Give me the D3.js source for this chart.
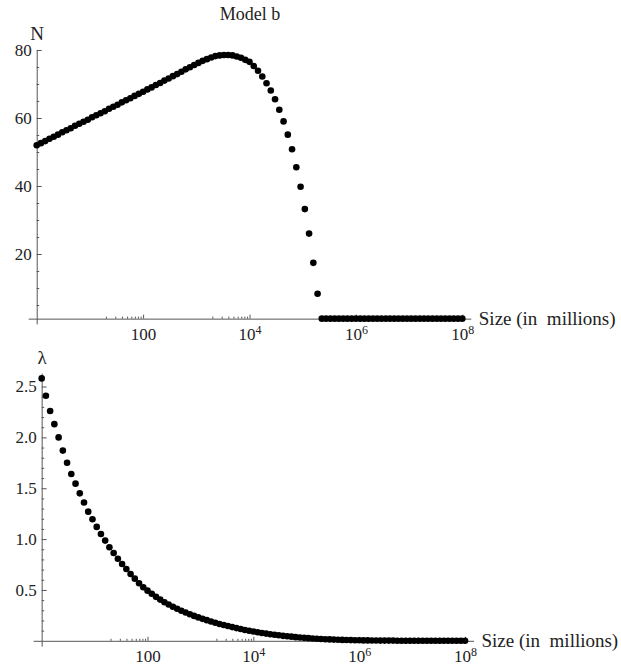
<!DOCTYPE html>
<html>
<head>
<meta charset="utf-8">
<script src="https://cdn.jsdelivr.net/npm/d3@7"></script>
<style>
  body { margin: 0; background: #fff; }
  svg text { font-family: "Liberation Serif", "Times New Roman", serif; fill: #222; }
</style>
</head>
<body>
<svg id="chart" width="621" height="667"></svg>
<script>
// log10 of size (in millions), one entry per computed point
const sizeExp = [
  0, 0.08, 0.16, 0.24, 0.32, 0.4, 0.48, 0.56, 0.64, 0.72,
  0.8, 0.88, 0.96, 1.04, 1.12, 1.2, 1.28, 1.36, 1.44, 1.52,
  1.6, 1.68, 1.76, 1.84, 1.92, 2, 2.08, 2.16, 2.24, 2.32,
  2.4, 2.48, 2.56, 2.64, 2.72, 2.8, 2.88, 2.96, 3.04, 3.12,
  3.2, 3.28, 3.36, 3.44, 3.52, 3.6, 3.68, 3.76, 3.84, 3.92,
  4, 4.08, 4.16, 4.24, 4.32, 4.4, 4.48, 4.56, 4.64, 4.72,
  4.8, 4.88, 4.96, 5.04, 5.12, 5.2, 5.28, 5.36, 5.44, 5.52,
  5.6, 5.68, 5.76, 5.84, 5.92, 6, 6.08, 6.16, 6.24, 6.32,
  6.4, 6.48, 6.56, 6.64, 6.72, 6.8, 6.88, 6.96, 7.04, 7.12,
  7.2, 7.28, 7.36, 7.44, 7.52, 7.6, 7.68, 7.76, 7.84, 7.92,
  8
];

const nValues = [
  52.0, 52.6, 53.2, 53.9, 54.5, 55.1, 55.8, 56.4, 57.0, 57.7,
  58.3, 58.9, 59.5, 60.2, 60.8, 61.4, 62.0, 62.7, 63.3, 63.9,
  64.6, 65.2, 65.8, 66.5, 67.1, 67.7, 68.4, 69.0, 69.7, 70.3,
  71.0, 71.6, 72.3, 72.9, 73.6, 74.3, 74.9, 75.6, 76.2, 76.8,
  77.3, 77.8, 78.2, 78.4, 78.5, 78.5, 78.4, 78.1, 77.7, 77.1,
  76.5, 75.3, 73.9, 72.2, 70.2, 68.1, 65.5, 62.4, 59.0, 55.1,
  50.8, 45.5, 39.8, 33.2, 26.0, 17.4, 8.3, 1, 1, 1,
  1, 1, 1, 1, 1, 1, 1, 1, 1, 1,
  1, 1, 1, 1, 1, 1, 1, 1, 1, 1,
  1, 1, 1, 1, 1, 1, 1, 1, 1, 1,
  1
];

const lambdaValues = [
  2.58, 2.41, 2.26, 2.13, 2.00, 1.87, 1.75, 1.64, 1.545, 1.45,
  1.36, 1.27, 1.195, 1.12, 1.05, 0.985, 0.92, 0.863, 0.807, 0.755,
  0.706, 0.657, 0.611, 0.566, 0.527, 0.493, 0.462, 0.432, 0.405, 0.379,
  0.357, 0.335, 0.315, 0.296, 0.278, 0.261, 0.245, 0.230, 0.216, 0.203,
  0.190, 0.178, 0.166, 0.155, 0.145, 0.135, 0.125, 0.116, 0.107, 0.099,
  0.091, 0.084, 0.077, 0.071, 0.065, 0.059, 0.054, 0.049, 0.045, 0.041,
  0.036, 0.032, 0.029, 0.026, 0.023, 0.020, 0.018, 0.016, 0.014, 0.012,
  0.011, 0.009, 0.008, 0.007, 0.006, 0.005, 0.004, 0.004, 0.003, 0.003,
  0.002, 0.002, 0.002, 0.002, 0.001, 0.001, 0.001, 0.001, 0.001, 0.001,
  0.001, 0.001, 0.001, 0.001, 0.001, 0.001, 0.001, 0.001, 0.001, 0.001,
  0.001
];

const majorExp = [2, 4, 6, 8];
const minorMult = [2, 3, 4, 5, 6, 7, 8, 9];
const nTicks = [20, 40, 60, 80];
const nMinor = [5, 10, 15, 25, 30, 35, 45, 50, 55, 65, 70, 75];
const lambdaTicks = [0.5, 1.0, 1.5, 2.0, 2.5];
const lambdaMinor = [0.1, 0.2, 0.3, 0.4, 0.6, 0.7, 0.8, 0.9, 1.1, 1.2, 1.3, 1.4,
  1.6, 1.7, 1.8, 1.9, 2.1, 2.2, 2.3, 2.4, 2.6];

const svg = d3.select("#chart");
const tickFont = 17;
const labelFont = 19;
const axisColor = "#555";

const majorX = majorExp.map((e) => Math.pow(10, e));
const minorX = [];
majorExp.forEach((e) => minorMult.forEach((m) => minorX.push(m * Math.pow(10, e - 1))));

function addPanel(o) {
  const x = d3.scaleLog()
    .domain([Math.pow(10, -0.16), Math.pow(10, 8.16)])
    .range(o.xRange);
  const y = d3.scaleLinear().domain(o.yDomain).range(o.yRange);
  const axisY = y(o.axisAt);
  const axisX = x(1);
  const g = svg.append("g");

  // minor ticks first
  g.append("g")
    .attr("transform", `translate(0,${axisY})`)
    .attr("color", axisColor)
    .call(d3.axisBottom(x).tickValues(minorX).tickSize(-2).tickFormat(""))
    .call((s) => s.select(".domain").remove());

  g.append("g")
    .attr("transform", `translate(${axisX},0)`)
    .attr("color", axisColor)
    .call(d3.axisLeft(y).tickValues(o.yMinor).tickSize(-2.5).tickFormat(""))
    .call((s) => s.select(".domain").remove());

  const xa = g.append("g")
    .attr("transform", `translate(0,${axisY})`)
    .call(d3.axisBottom(x).tickValues(majorX).tickSizeInner(-4).tickSizeOuter(0)
      .tickPadding(9).tickFormat(""))
    .attr("color", axisColor)
    .attr("font-size", tickFont);

  xa.selectAll(".tick text").each(function (d) {
    const e = Math.round(Math.log10(d));
    const t = d3.select(this);
    if (e === 2) {
      t.text("100");
    } else {
      t.text("10");
      t.append("tspan").attr("dy", "-0.45em").attr("font-size", 12).text(e);
    }
  });

  g.append("g")
    .attr("transform", `translate(${axisX},0)`)
    .call(d3.axisLeft(y).tickValues(o.yTicks).tickSizeInner(-5).tickSizeOuter(0)
      .tickPadding(5).tickFormat(o.yFormat))
    .attr("color", axisColor)
    .attr("font-size", tickFont);

  g.append("text")
    .attr("x", o.xRange[1] + 8)
    .attr("y", axisY + 6.5)
    .attr("font-size", labelFont)
    .style("white-space", "pre")
    .text("Size (in  millions)");

  g.append("text")
    .attr("x", axisX + 0.5)
    .attr("y", o.yLabelY)
    .attr("text-anchor", "middle")
    .attr("font-size", labelFont)
    .text(o.yLabel);

  g.append("g")
    .selectAll("circle")
    .data(o.values)
    .enter()
    .append("circle")
    .attr("cx", (d, i) => x(Math.pow(10, sizeExp[i])))
    .attr("cy", (d) => y(d))
    .attr("r", 3.3)
    .attr("fill", "#000");

  return g;
}

addPanel({
  xRange: [28.2, 470.8],
  yDomain: [-0.55, 80.05],
  yRange: [323.9, 49.8],
  axisAt: 1,
  yTicks: nTicks,
  yMinor: nMinor,
  yFormat: d3.format("d"),
  yLabel: "N",
  yLabelY: 39.5,
  values: nValues,
});

addPanel({
  xRange: [33.2, 473.5],
  yDomain: [-0.052, 2.632],
  yRange: [646.1, 373.1],
  axisAt: 0,
  yTicks: lambdaTicks,
  yMinor: lambdaMinor,
  yFormat: d3.format(".1f"),
  yLabel: "λ",
  yLabelY: 364,
  values: lambdaValues,
});

svg.append("text")
  .attr("x", 250)
  .attr("y", 19.5)
  .attr("text-anchor", "middle")
  .attr("font-size", 18)
  .text("Model b");
</script>
</body>
</html>
